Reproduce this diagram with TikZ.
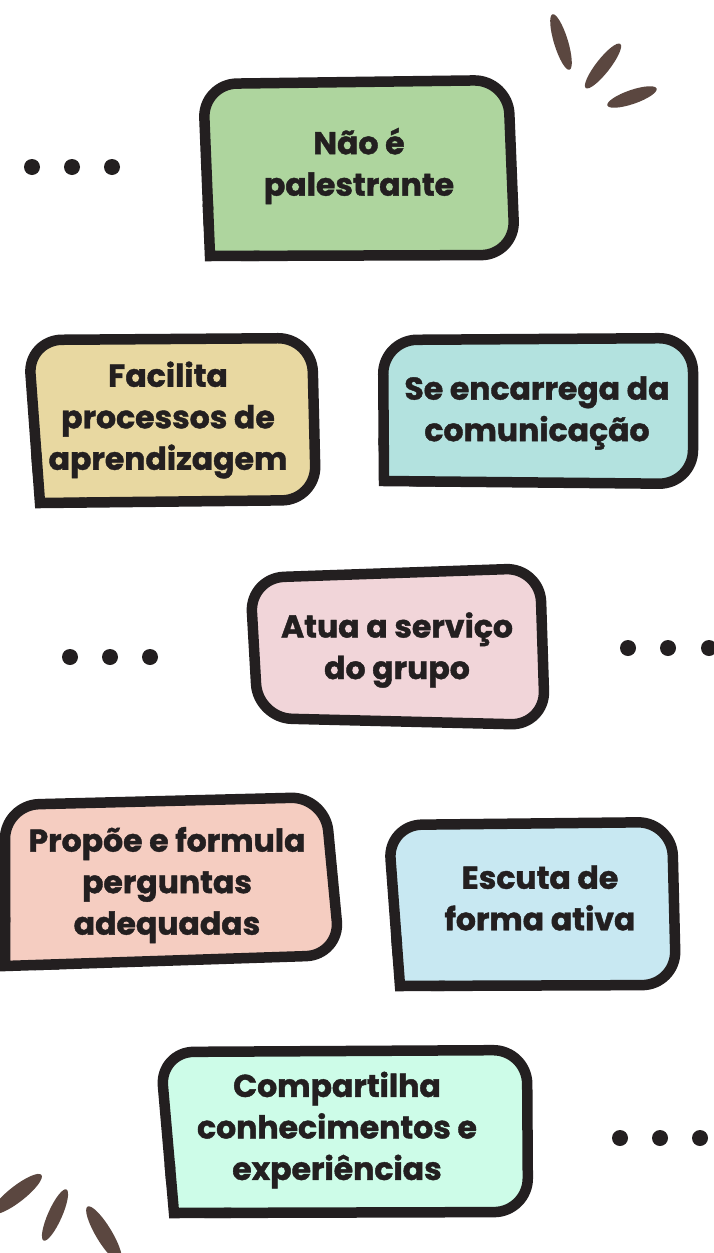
\documentclass[tikz,border=0pt]{standalone}
\usepackage{fontspec}
\setmainfont{Poppins}[BoldFeatures={FakeBold=1.3}]
\usetikzlibrary{calc}
\definecolor{ink}{HTML}{231F20}
\definecolor{brush}{HTML}{5B4740}
\definecolor{cgreen}{HTML}{AED59E}
\definecolor{cyellow}{HTML}{E8D8A1}
\definecolor{cteal}{HTML}{B3E2DF}
\definecolor{cpink}{HTML}{F1D5D9}
\definecolor{csalmon}{HTML}{F5CDC1}
\definecolor{cblue}{HTML}{C8E8F2}
\definecolor{cmint}{HTML}{CDFCE8}
\tikzset{
  boxline/.style={draw=ink, line width=10.5pt, rounded corners=34pt, line join=round},
  cornerline/.style={draw=ink, line width=10.5pt, line join=miter, line cap=round},
  label/.style={text=ink, align=center, font=\fontsize{31.5}{41.5}\selectfont\bfseries, inner sep=0pt},
  dot/.style={fill=ink, draw=none},
  stroke/.style={fill=brush, draw=none}
}
% #1 fill colour, #2 TL, #3 TR, #4 BR, #5 BL (sharp hand-drawn start corner)
\newcommand\handbox[5]{%
  \draw[boxline, fill=#1] #2 -- #3 -- #4 -- #5 -- cycle;
  \filldraw[cornerline, fill=#1] ($#5!0.3!#2$) -- #5 -- ($#5!0.16!#4$);
}
\begin{document}
\begin{tikzpicture}[x=1pt,y=-1pt]
\useasboundingbox[fill=white] (0,0) rectangle (713,1253);
% boxes
\handbox{cgreen}{(203,84)}{(508,80)}{(515,255)}{(210,256)}
\handbox{cyellow}{(28,340)}{(312,338)}{(316,500)}{(40,503)}
\handbox{cteal}{(383,340)}{(693,338)}{(693,484)}{(384,481)}
\draw[boxline, fill=cpink] (250,578) -- (540,568) -- (545,725) -- (258,718) -- cycle;
\handbox{csalmon}{(5,805)}{(325,797)}{(340,955)}{(5,966)}
\handbox{cblue}{(388,825)}{(672,822)}{(676,985)}{(400,986)}
\handbox{cmint}{(160,1052)}{(527,1050)}{(528,1212)}{(174,1213)}
% labels
\node[label] (n1) at (359,166) {Não é\\palestrante};
\node[label] (n2) at (168,420) {Facilita\\processos de\\aprendizagem};
\node[label] (n3) at (537,413) {Se encarrega da\\comunicação};
\node[label] (n4) at (397,650) {Atua a serviço\\do grupo};
\node[label] (n5) at (167,885) {Propõe e formula\\perguntas\\adequadas};
\node[label] (n6) at (540,898) {Escuta de\\forma ativa};
\node[label] (n7) at (337,1130) {Compartilha\\conhecimentos e\\experiências};
% dots
\foreach \x in {32,72,112} \fill[dot] (\x,167) circle (8pt);
\foreach \x in {70,110,150} \fill[dot] (\x,657) circle (8pt);
\foreach \x in {628,668,709} \fill[dot] (\x,648) circle (8pt);
\foreach \x in {620,660,700} \fill[dot] (\x,1138) circle (8pt);
% brush strokes
\fill[stroke, rotate around={-73:(561,42)}] (561,42) ellipse (29pt and 7pt);
\fill[stroke, rotate around={52:(603,66)}] (603,66) ellipse (28pt and 7pt);
\fill[stroke, rotate around={19:(632,97)}] (632,97) ellipse (26pt and 7pt);
\fill[stroke, rotate around={38:(17,1194)}] (17,1194) ellipse (31pt and 8pt);
\fill[stroke, rotate around={66:(55,1215)}] (55,1215) ellipse (28pt and 7pt);
\fill[stroke, rotate around={-59:(104,1234)}] (104,1234) ellipse (32pt and 8pt);
\end{tikzpicture}
\end{document}
